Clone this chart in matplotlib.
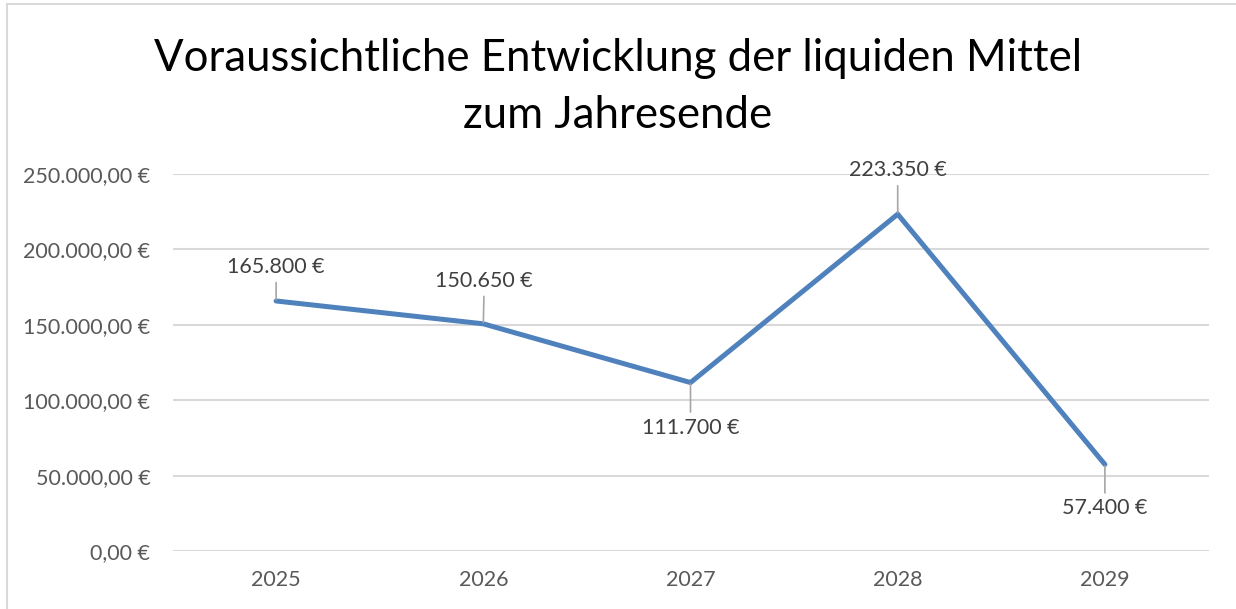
import matplotlib.pyplot as plt
from matplotlib.patches import Rectangle

# data
jahre = ["2025", "2026", "2027", "2028", "2029"]
mittel = [165800, 150650, 111700, 223350, 57400]
# label offsets in pixels (dx, dy) relative to the point
label_pos = [(0, 34), (1, 43), (0, -45), (0, 44), (0, -44)]

yticks = [0, 50000, 100000, 150000, 200000, 250000]


def euro_axis(v):
    s = f"{v:,.2f}".replace(",", "X").replace(".", ",").replace("X", ".")
    return s + " €"


def euro_label(v):
    return f"{v:,.0f}".replace(",", ".") + " €"


plt.rcParams['font.family'] = ['Lato', 'DejaVu Sans']

fig = plt.figure(figsize=(12.36, 6.09), dpi=100)
ax = fig.add_axes([172.5 / 1236, 58 / 609, 1036 / 1236, 377 / 609])

# light chart border
fig.patches.append(Rectangle((7 / 1236, -0.05), 1.2, (609 - 4) / 609 + 0.05,
                             transform=fig.transFigure, fill=False,
                             edgecolor="#d9d9d9", linewidth=1.5))

x = list(range(len(jahre)))
ax.plot(x, mittel, color="#4f81bd", linewidth=3.6, solid_capstyle="round",
        solid_joinstyle="miter", zorder=3)

for xi, v, (dx, dy) in zip(x, mittel, label_pos):
    ax.annotate(euro_label(v), xy=(xi, v), xytext=(dx, dy),
                textcoords="offset pixels", ha="center", va="center",
                fontsize=15.5, color="#404040",
                arrowprops=dict(arrowstyle="-", color="#a6a6a6", lw=1.2,
                                shrinkA=2, shrinkB=1))

ax.set_xlim(-0.5, len(jahre) - 0.5)
ax.set_ylim(0, 250000)
ax.set_yticks(yticks)
ax.set_yticklabels([euro_axis(v) for v in yticks])
ax.set_xticks(x)
ax.set_xticklabels(jahre)
ax.tick_params(length=0, labelsize=15.5, labelcolor="#595959")
ax.tick_params(axis="y", pad=16)
ax.tick_params(axis="x", pad=14)
ax.grid(axis="y", color="#d9d9d9", linewidth=1.5)
ax.set_axisbelow(True)
for s in ax.spines.values():
    s.set_visible(False)

fig.text(0.5, 1 - 87 / 609, "Voraussichtliche Entwicklung der liquiden Mittel\nzum Jahresende",
         ha="center", va="center", fontsize=31.5, color="#000000", linespacing=1.5)

fig.savefig("out.png", dpi=100)
